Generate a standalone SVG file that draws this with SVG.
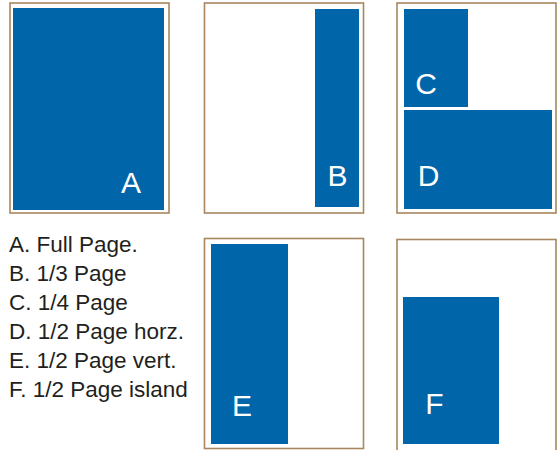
<svg xmlns="http://www.w3.org/2000/svg" width="558" height="450" viewBox="0 0 558 450">
<style>
.frame{fill:#fff;stroke:#a8865e;stroke-width:1.6}
.blk{fill:#0066a9}
.lbl{font-family:"Liberation Sans",Arial,sans-serif;font-size:30px;fill:#fff}
.leg{font-family:"Liberation Sans",Arial,sans-serif;font-size:22.5px;fill:#231f20}
</style>
<rect width="558" height="450" fill="#fff"/>
<g id="pageA">
<rect class="frame" x="10" y="3" width="159" height="210"/>
<rect class="blk" x="13" y="8" width="151" height="202"/>
<text class="lbl" x="131" y="193" text-anchor="middle">A</text>
</g>
<g id="pageB">
<rect class="frame" x="204.5" y="3" width="159" height="210"/>
<rect class="blk" x="315" y="9" width="44" height="198"/>
<text class="lbl" x="337.5" y="186" text-anchor="middle">B</text>
</g>
<g id="pageCD">
<rect class="frame" x="397" y="3" width="159" height="210"/>
<rect class="blk" x="404" y="9" width="64" height="98"/>
<text class="lbl" x="426" y="94" text-anchor="middle">C</text>
<rect class="blk" x="404" y="110" width="148" height="99"/>
<text class="lbl" x="428.5" y="186" text-anchor="middle">D</text>
</g>
<g id="pageE">
<rect class="frame" x="204.5" y="238.5" width="159" height="210"/>
<rect class="blk" x="211" y="244" width="77" height="200"/>
<text class="lbl" x="242" y="416" text-anchor="middle">E</text>
</g>
<g id="pageF">
<rect class="frame" x="397" y="239.5" width="159" height="212"/>
<rect class="blk" x="403" y="297" width="96" height="147"/>
<text class="lbl" x="434.5" y="414" text-anchor="middle">F</text>
</g>
<g id="legend">
<text class="leg" x="9" y="252">A. Full Page.</text>
<text class="leg" x="9" y="281">B. 1/3 Page</text>
<text class="leg" x="9" y="310">C. 1/4 Page</text>
<text class="leg" x="9" y="339">D. 1/2 Page horz.</text>
<text class="leg" x="9" y="368">E. 1/2 Page vert.</text>
<text class="leg" x="9" y="397">F. 1/2 Page island</text>
</g>
<g id="connectors"/>
</svg>
